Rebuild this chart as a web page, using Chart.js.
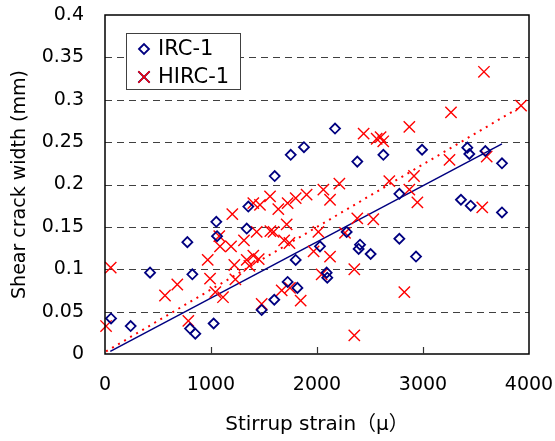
<!DOCTYPE html>
<html>
<head>
<meta charset="utf-8">
<script src="https://cdn.jsdelivr.net/npm/chart.js@4"></script>
<style>
  body { margin: 0; background: #fff; }
</style>
</head>
<body>
<canvas id="chart" width="555" height="441"></canvas>
<script>
// IRC-1 (blue diamonds)
const ircStrain = [57, 242, 425, 777, 824, 802, 852, 1025, 1050, 1057, 1337, 1352, 1601, 1752, 1877, 2170, 2380, 2626,
  1799, 1723, 1815, 1597, 1478, 2028, 2091, 2097, 2280, 2406, 2393, 2506, 2991, 2777, 3418, 3437, 3588, 3745,
  3358, 3450, 3745, 2777, 2934];
const ircWidth = [0.042, 0.033, 0.096, 0.132, 0.094, 0.030, 0.024, 0.036, 0.156, 0.139, 0.148, 0.174, 0.210, 0.235, 0.244, 0.266, 0.227, 0.235,
  0.111, 0.085, 0.078, 0.064, 0.052, 0.127, 0.096, 0.090, 0.144, 0.129, 0.124, 0.118, 0.241, 0.189, 0.2435, 0.236, 0.2395, 0.225,
  0.182, 0.175, 0.167, 0.136, 0.115];

// HIRC-1 (red crosses)
const hircStrain = [10, 54, 566, 682, 786, 969, 991, 1041, 1113, 1078, 1085, 1189, 1201, 1220, 1230, 1311, 1337, 1362,
  1399, 1450, 1431, 1399, 1462, 1557, 1635, 1723, 1799, 1902, 2060, 2123, 2211, 1560, 1590, 1714, 1690, 1740,
  2013, 2264, 2380, 2531, 1968, 2123, 2044, 2352, 1667, 1745, 1846, 1478, 2352, 2824, 3575, 3925, 3264, 2871,
  2440, 2563, 2600, 2625, 3250, 3601, 2682, 2915, 2871, 2947, 3559];
const hircWidth = [0.033, 0.102, 0.069, 0.082, 0.039, 0.111, 0.089, 0.073, 0.067, 0.139, 0.127, 0.127, 0.165, 0.105, 0.088, 0.134, 0.111, 0.104,
  0.116, 0.112, 0.144, 0.178, 0.176, 0.186, 0.171, 0.178, 0.184, 0.188, 0.194, 0.182, 0.201, 0.145, 0.144, 0.153, 0.134, 0.131,
  0.144, 0.143, 0.160, 0.159, 0.121, 0.115, 0.094, 0.100, 0.075, 0.078, 0.063, 0.059, 0.022, 0.073, 0.333, 0.293, 0.285, 0.268,
  0.260, 0.254, 0.256, 0.251, 0.229, 0.233, 0.204, 0.210, 0.194, 0.179, 0.173];

// trend lines (end points)
const ircFitStrain = [50, 3745];
const ircFitWidth = [0.003, 0.248];
const hircFitStrain = [10, 3925];
const hircFitWidth = [0.003, 0.292];

const xTicks = [0, 1000, 2000, 3000, 4000];
const yTickLabels = ['0', '0.05', '0.1', '0.15', '0.2', '0.25', '0.3', '0.35', '0.4'];
const yGrid = [0.05, 0.1, 0.15, 0.2, 0.25, 0.3, 0.35];

const NAVY = '#000080';
const RED = '#ff0000';
const FONT = '"DejaVu Sans", "Noto Sans CJK JP", sans-serif';

const toXY = (xs, ys) => xs.map((v, i) => ({ x: v, y: ys[i] }));

// 枠・グリッド・凡例
const framePlugin = {
  id: 'frame',
  beforeDatasetsDraw(chart) {
    const { ctx, chartArea: a, scales: { y } } = chart;
    ctx.save();
    ctx.strokeStyle = '#404040';
    ctx.lineWidth = 1;
    ctx.setLineDash([7, 5]);
    yGrid.forEach(v => {
      const py = Math.round(y.getPixelForValue(v)) + 0.5;
      ctx.beginPath();
      ctx.moveTo(a.left, py);
      ctx.lineTo(a.right, py);
      ctx.stroke();
    });
    ctx.restore();
  },
  afterDatasetsDraw(chart) {
    const { ctx, chartArea: a, scales: { x } } = chart;
    ctx.save();
    ctx.strokeStyle = '#000';
    ctx.lineWidth = 1.5;
    ctx.strokeRect(a.left, a.top, a.right - a.left, a.bottom - a.top);
    // inner tick marks on x axis
    ctx.lineWidth = 1.2;
    ctx.strokeStyle = '#333';
    xTicks.slice(1, -1).forEach(v => {
      const px = Math.round(x.getPixelForValue(v)) + 0.5;
      ctx.beginPath();
      ctx.moveTo(px, a.bottom);
      ctx.lineTo(px, a.bottom - 7);
      ctx.stroke();
    });

    // legend
    ctx.fillStyle = '#fff';
    ctx.fillRect(126, 33, 115, 57);
    ctx.strokeStyle = '#404040';
    ctx.lineWidth = 1;
    ctx.strokeRect(126.5, 33.5, 114, 56);
    const ds = chart.data.datasets;
    [0, 1].forEach((k, i) => {
      const cy = 49 + i * 28;
      Chart.helpers.drawPoint(ctx, {
        pointStyle: ds[k].pointStyle,
        radius: ds[k].pointRadius,
        borderWidth: ds[k].borderWidth
      }, 144, cy);
      ctx.strokeStyle = ds[k].borderColor;
      ctx.lineWidth = ds[k].borderWidth;
      ctx.stroke();
      ctx.fillStyle = '#000';
      ctx.font = '21px ' + FONT;
      ctx.textBaseline = 'middle';
      ctx.textAlign = 'left';
      ctx.fillText(ds[k].label, 158, cy + 1);
    });
    ctx.restore();
  }
};

// 目盛り線は透明にして、ラベルとの間隔だけに使う
const hiddenGrid = len => ({
  display: true,
  drawOnChartArea: false,
  drawTicks: true,
  tickLength: len,
  color: 'rgba(0,0,0,0)'
});

new Chart(document.getElementById('chart'), {
  type: 'scatter',
  data: {
    datasets: [
      {
        label: 'IRC-1',
        data: toXY(ircStrain, ircWidth),
        pointStyle: 'rectRot',
        pointRadius: 5,
        borderColor: NAVY,
        backgroundColor: 'rgba(0,0,0,0)',
        borderWidth: 1.8,
        clip: false
      },
      {
        label: 'HIRC-1',
        data: toXY(hircStrain, hircWidth),
        pointStyle: 'crossRot',
        pointRadius: 8,
        borderColor: RED,
        backgroundColor: RED,
        borderWidth: 1.4,
        clip: false
      },
      {
        type: 'line',
        data: toXY(ircFitStrain, ircFitWidth),
        borderColor: NAVY,
        borderWidth: 1.5,
        pointRadius: 0
      },
      {
        type: 'line',
        data: toXY(hircFitStrain, hircFitWidth),
        borderColor: RED,
        borderWidth: 2,
        borderDash: [2, 5],
        pointRadius: 0
      }
    ]
  },
  options: {
    responsive: false,
    animation: false,
    layout: { padding: { top: 15, right: 26, left: 0, bottom: 0 } },
    plugins: {
      legend: { display: false },
      tooltip: { enabled: false }
    },
    scales: {
      x: {
        type: 'linear',
        min: 0,
        max: 4000,
        afterFit: s => { s.height = 87; },
        afterBuildTicks: s => { s.ticks = xTicks.map(v => ({ value: v })); },
        grid: hiddenGrid(20),
        border: { display: false },
        ticks: {
          padding: 0,
          color: '#000',
          font: { family: FONT, size: 19 },
          maxRotation: 0,
          callback: v => String(v)
        },
        title: {
          display: true,
          text: 'Stirrup strain（μ）',
          color: '#000',
          font: { family: FONT, size: 20 },
          padding: { top: 0, bottom: 4 }
        }
      },
      y: {
        min: 0,
        max: 0.4,
        afterFit: s => { s.width = 105; },
        afterBuildTicks: s => { s.ticks = yTickLabels.map((t, i) => ({ value: i * 0.05 })); },
        grid: hiddenGrid(21),
        border: { display: false },
        ticks: {
          padding: 0,
          color: '#000',
          font: { family: FONT, size: 19 },
          callback: (v, i) => yTickLabels[i]
        },
        title: {
          display: true,
          text: 'Shear crack width (mm)',
          color: '#000',
          font: { family: FONT, size: 19 },
          padding: { top: 9, bottom: 0 }
        }
      }
    }
  },
  plugins: [framePlugin]
});
</script>
</body>
</html>
